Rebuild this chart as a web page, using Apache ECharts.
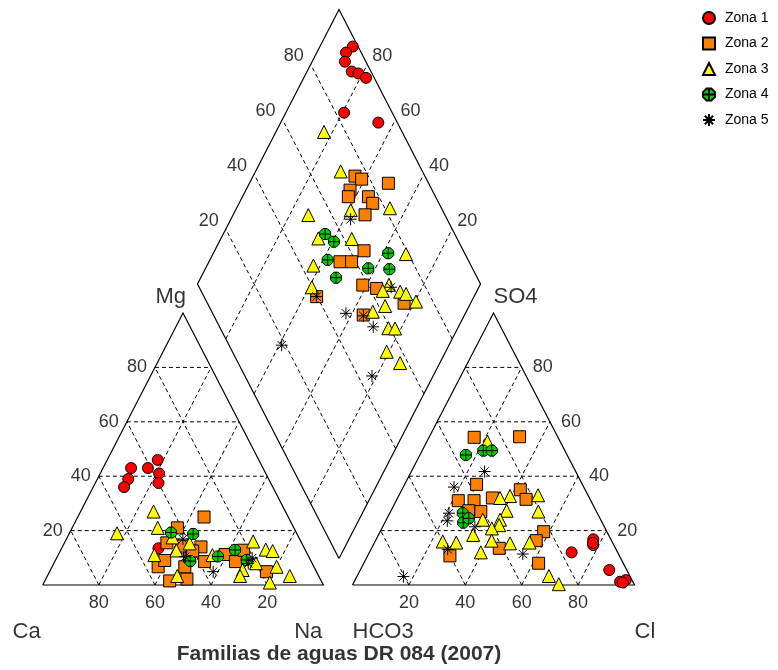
<!DOCTYPE html>
<html><head><meta charset="utf-8">
<script src="https://cdn.jsdelivr.net/npm/echarts@6/dist/echarts.min.js"></script>
<style>html,body{margin:0;padding:0;background:#fff}#c{width:778px;height:670px}</style>
</head><body><div id="c"></div>
<script>
// ---------------- DATA ----------------
const zones = ['Zona 1','Zona 2','Zona 3','Zona 4','Zona 5'];
const ticks = [20, 40, 60, 80];
const tickLabels = ['20', '40', '60', '80'];
const title = 'Familias de aguas DR 084 (2007)';

// Cation triangle: [Ca %, Mg %]  (Na = remainder)
const cat1 = [[47,43],[50,39],[53,36],[41,43],[36,46],[38,41],[40,37.5],[52,13.5]];
const cat2 = [[30,25],[41.5,21],[48,15.5],[55.5,6.7],[52,9],[54,1.5],[47.5,2.2],[46,6.7],[42.4,10.6],[36.6,14],[38,8.6],[29.4,11.2],[27,8.6],[22,12.8],[17.8,4.9],[43,14.3],[40.3,12.5]];
const cat3 = [[47,27],[64,19],[48.5,21],[45,17.5],[54.7,11],[46,12.7],[50.4,3.3],[34,11],[17,16],[14,13],[11.8,12.5],[26,5.5],[28,3.3],[13.3,6.7],[10.3,3.3],[18.6,0.9],[40,15.3],[20,8]];
const cat4 = [[44.6,19.3],[37,18.75],[25,12.9],[32.3,10.5],[43,8.8],[22.7,9.2]];
const cat5 = [[41.6,16.9],[20.4,9.9],[36.8,4.9],[44,10.4],[22.8,7.9]];

// Anion triangle: [Cl %, SO4 %]  (HCO3 = remainder)
const an1 = [[71.7,12],[77,16.8],[78,14.7],[77.5,15.5],[88.3,5.5],[94.3,1.2],[96,1.8],[95.4,0.9]];
const an2 = [[16,54.3],[32,54.5],[25.5,37],[22,31],[27.6,31],[33.6,32],[42,35],[45.8,31.5],[27.6,27.3],[32,27],[58,19.6],[57,16.3],[45.3,13.5],[29.2,10.7],[62,8]];
const an3 = [[21.5,52.7],[49.3,33],[39.5,32.7],[36.3,32],[41,27.3],[52.4,27],[34.2,24],[40.3,24],[41,22],[39,20.8],[33.6,18.4],[24,16],[29,15.6],[41.2,16.3],[48.2,15.3],[55,15.6],[39.5,12],[68,3.3],[73,0.3]];
const an4 = [[16.3,47.8],[21.7,49.4],[24.7,49.4],[25.9,26.4],[27.8,22.9],[29,24.5]];
const an5 = [[26,41.7],[18,36],[21,26.4],[21.8,23.6],[32.7,21.4],[27.2,13.1],[54.7,11.4],[16.5,3.1]];

// Diamond: [Ca+Mg %, SO4+Cl %]
const dia1 = [[88.4,98.1],[89.7,94.6],[88.4,92.6],[84.2,93.2],[81.5,95.2],[78,97.1],[79.4,83],[65.5,93.3]];
const dia2 = [[64,75.3],[61.1,77.1],[50.9,85.8],[63.2,71],[62.6,69.2],[55.5,76.3],[52.8,76.6],[53.4,71.8],[47.2,64.9],[53.7,54.4],[49.6,58.5],[41.4,58.2],[35.9,62.5],[23.5,69.5],[55.6,39.8],[35.8,52.9]];
const dia3 = [[83,72.4],[69.9,71.1],[73.4,51.7],[59.3,67.6],[45.8,81.8],[65.6,51],[53.7,62.7],[31.8,79.1],[62.4,44.3],[59,39.8],[32.2,67.5],[33.3,64.2],[27,70.2],[24.5,71.9],[19.6,74],[29.7,62.3],[33,56.9],[24.5,59.4],[22.1,61.7],[20.8,54.5],[14,57.2]];
const dia4 = [[64,54.2],[59.5,55.9],[58.4,50.4],[52.2,50.1],[42.5,63.2],[38.2,73],[34.9,70.5]];
const dia5 = [[57.7,65.9],[42.2,47.1],[30.1,54.3],[59.1,18.6],[31,67.8],[55.6,39.8],[35.6,52.8],[21.6,44.9]];

// ---------------- LAYOUT ----------------
const FONT = 'Liberation Sans, Arial, sans-serif';
const W1 = 280.6, W2 = 282, H = 272;
const CAT = {x0: 42.7, yb: 585};
const AN = {x0: 352.5, yb: 585};
const DIA = {cx: 339, yb: 558.5, hw: 141.5, hh: 274.5};
function catXY(ca, mg) { const na = 100 - ca - mg; return [CAT.x0 + W1 * (na + mg / 2) / 100, CAT.yb - H * mg / 100]; }
function anXY(cl, so4) { return [AN.x0 + W2 * (cl + so4 / 2) / 100, AN.yb - H * so4 / 100]; }
function diaXY(cm, sc) { const u = cm / 100, v = sc / 100; return [DIA.cx + DIA.hw * (v - u), DIA.yb - DIA.hh * (u + v)]; }

const outlines = [
  {coords: [catXY(100,0), catXY(0,0), catXY(0,100), catXY(100,0)]},
  {coords: [anXY(0,0), anXY(100,0), anXY(0,100), anXY(0,0)]},
  {coords: [diaXY(0,0), diaXY(100,0), diaXY(100,100), diaXY(0,100), diaXY(0,0)]}
];
const gridL = [];
ticks.forEach(t => {
  gridL.push({coords: [catXY(100 - t, t), catXY(0, t)]});
  gridL.push({coords: [catXY(t, 0), catXY(t, 100 - t)]});
  gridL.push({coords: [catXY(100 - t, 0), catXY(0, 100 - t)]});
  gridL.push({coords: [anXY(0, t), anXY(100 - t, t)]});
  gridL.push({coords: [anXY(t, 0), anXY(t, 100 - t)]});
  gridL.push({coords: [anXY(100 - t, 0), anXY(0, 100 - t)]});
  gridL.push({coords: [diaXY(t, 0), diaXY(t, 100)]});
  gridL.push({coords: [diaXY(0, t), diaXY(100, t)]});
});

function lab(pos, text, off, align, size, weight) {
  return {value: pos, label: {show: true, formatter: text, position: 'inside', offset: off, align: align,
    verticalAlign: 'middle', fontSize: size || 18, fontWeight: weight || 'normal', fontFamily: FONT, color: '#000'}};
}
const labels = [];
ticks.forEach((t, i) => {
  const s = tickLabels[i];
  labels.push(lab(catXY(100 - t, t), s, [-8, 0], 'right'));
  labels.push(lab(catXY(t, 0), s, [0, 18], 'center'));
  labels.push(lab(anXY(100 - t, t), s, [11, 0], 'left'));
  labels.push(lab(anXY(t, 0), s, [0, 18], 'center'));
  labels.push(lab(diaXY(100, t), s, [-7, -8], 'right'));
  labels.push(lab(diaXY(t, 100), s, [5, -8], 'left'));
});
labels.push(lab(catXY(100,0), 'Ca', [-2, 47], 'right', 22));
labels.push(lab(catXY(0,0), 'Na', [-1, 47], 'right', 22));
labels.push(lab(catXY(0,100), 'Mg', [3, -16], 'right', 22));
labels.push(lab(anXY(0,0), 'HCO3', [0, 47], 'left', 22));
labels.push(lab(anXY(100,0), 'Cl', [0, 47], 'left', 22));
labels.push(lab(anXY(0,100), 'SO4', [0, -16], 'left', 22));
labels.push(lab([DIA.cx, 585], title, [0, 69], 'center', 21, 'bold'));

const symPlus = 'path://M3,0 L7,0 L10,3 L10,7 L7,10 L3,10 L0,7 L0,3 Z M5,0 L5,10 M0,5 L10,5';
const symStar = 'path://M5,0 L5,10 M0,5 L10,5 M1.5,1.5 L8.5,8.5 M8.5,1.5 L1.5,8.5';
const styles = [
  {symbol: 'circle', size: 11, color: '#FF0000'},
  {symbol: 'rect', size: 12, color: '#FF8000'},
  {symbol: 'triangle', size: 13, color: '#FFFF00'},
  {symbol: symPlus, size: 11, color: '#00CC00'},
  {symbol: symStar, size: 12, color: 'rgba(0,0,0,0)'}
];
const cats = [cat1, cat2, cat3, cat4, cat5];
const ans = [an1, an2, an3, an4, an5];
const dias = [dia1, dia2, dia3, dia4, dia5];

const series = [
  {type: 'lines', coordinateSystem: 'cartesian2d', polyline: true, silent: true, z: 1,
   lineStyle: {color: '#000', width: 1, type: [4, 3], opacity: 1}, data: gridL},
  {type: 'lines', coordinateSystem: 'cartesian2d', polyline: true, silent: true, z: 2,
   lineStyle: {color: '#000', width: 1.2, opacity: 1}, data: outlines}
];
zones.forEach((z, i) => {
  const st = styles[i];
  series.push({
    type: 'scatter', name: z, z: 3 + i, symbol: st.symbol, symbolSize: st.size,
    itemStyle: {color: st.color, borderColor: '#000', borderWidth: 1, opacity: 1},
    emphasis: {disabled: true},
    data: [].concat(cats[i].map(p => catXY(p[0], p[1])), ans[i].map(p => anXY(p[0], p[1])), dias[i].map(p => diaXY(p[0], p[1])))
  });
});
series.push({type: 'scatter', name: 'labels', symbolSize: 0, silent: true, z: 20,
  itemStyle: {color: 'rgba(0,0,0,0)'}, data: labels});

const chart = echarts.init(document.getElementById('c'));
chart.setOption({
  animation: false,
  backgroundColor: '#fff',
  grid: {left: 0, right: 0, top: 0, bottom: 0},
  xAxis: {type: 'value', min: 0, max: 778, show: false},
  yAxis: {type: 'value', min: 0, max: 670, inverse: true, show: false},
  legend: {
    data: zones.map((z, i) => ({name: z, icon: styles[i].symbol})),
    orient: 'vertical', left: 697, top: 6, itemWidth: 12, itemHeight: 12, itemGap: 11.5,
    textStyle: {fontSize: 14, fontFamily: FONT, color: '#000', padding: [0, 0, 0, 5]}, selectedMode: false
  },
  series: series
});
</script></body></html>
